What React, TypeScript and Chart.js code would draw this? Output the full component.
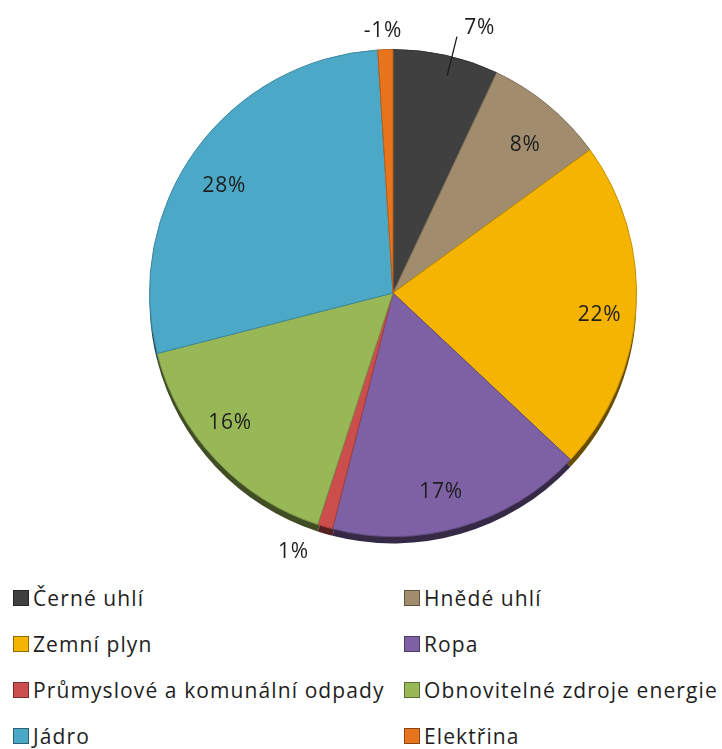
import React, { useEffect, useRef } from "react";
import { Chart, registerables } from "chart.js";

Chart.register(...registerables);

const categories = [
  "Černé uhlí",
  "Hnědé uhlí",
  "Zemní plyn",
  "Ropa",
  "Průmyslové a komunální odpady",
  "Obnovitelné zdroje energie",
  "Jádro",
  "Elektřina",
];
const shares = [7, 8, 22, 17, 1, 16, 28, -1];
const colors = ["#404040", "#A18C6D", "#F4B400", "#7D61A4", "#CB4E4C", "#98B858", "#4BA9C7", "#E8741E"];

// label placement (style): radius factor and angle offset in degrees
const LABEL_R = [1.145, 0.815, 0.853, 0.84, 1.14, 0.855, 0.82, 1.075];
const LABEL_DA = [5.5, 2.2, 2.5, 2.6, 4.8, 4.7, -3.7, -0.4];

const FONT = "'Open Sans', sans-serif";

function darken(hex: string, f: number) {
  const n = parseInt(hex.slice(1), 16);
  const r = Math.round(((n >> 16) & 255) * f);
  const g = Math.round(((n >> 8) & 255) * f);
  const b = Math.round((n & 255) * f);
  return `rgb(${r},${g},${b})`;
}

const shadowPlugin = {
  id: "pieShadow",
  beforeDatasetsDraw(chart: any) {
    const ctx = chart.ctx;
    const meta = chart.getDatasetMeta(0);
    ctx.save();
    meta.data.forEach((arc: any, i: number) => {
      const p = arc.getProps(["x", "y", "startAngle", "endAngle", "outerRadius"], true);
      const dy = 7;
      ctx.beginPath();
      ctx.moveTo(p.x, p.y + dy);
      ctx.arc(p.x, p.y + dy, p.outerRadius, p.startAngle, p.endAngle);
      ctx.closePath();
      ctx.fillStyle = darken(colors[i], 0.42);
      ctx.fill();
    });
    ctx.restore();
  },
};

const labelPlugin = {
  id: "pieLabels",
  afterDatasetsDraw(chart: any) {
    const ctx = chart.ctx;
    const meta = chart.getDatasetMeta(0);
    ctx.save();
    ctx.font = `21px ${FONT}`;
    try { (ctx as any).letterSpacing = "0.8px"; } catch (e) {}
    ctx.fillStyle = "#1e1e1e";
    ctx.textAlign = "center";
    ctx.textBaseline = "middle";
    meta.data.forEach((arc: any, i: number) => {
      const p = arc.getProps(["x", "y", "startAngle", "endAngle", "outerRadius"], true);
      const mid = (p.startAngle + p.endAngle) / 2;
      const a = mid + (LABEL_DA[i] * Math.PI) / 180;
      const r = p.outerRadius * LABEL_R[i];
      const lx = p.x + Math.cos(a) * r;
      const ly = p.y + Math.sin(a) * r;
      ctx.fillText(`${shares[i]}%`, lx, ly);
      if (i === 0) {
        const la = mid + (1.4 * Math.PI) / 180;
        ctx.beginPath();
        ctx.moveTo(p.x + Math.cos(la) * p.outerRadius * 0.92, p.y + Math.sin(la) * p.outerRadius * 0.92);
        ctx.lineTo(p.x + Math.cos(la) * p.outerRadius * 1.085, p.y + Math.sin(la) * p.outerRadius * 1.085);
        ctx.strokeStyle = "#1a1a1a";
        ctx.lineWidth = 1.3;
        ctx.stroke();
      }
    });
    ctx.restore();
  },
};

export default function App() {
  const ref = useRef<HTMLCanvasElement | null>(null);

  useEffect(() => {
    document.body.style.margin = "0";
    document.body.style.background = "#ffffff";
    const chart = new Chart(ref.current as HTMLCanvasElement, {
      type: "pie",
      data: {
        labels: categories,
        datasets: [
          {
            data: shares,
            backgroundColor: colors,
            borderColor: colors.map((c) => darken(c, 0.8)),
            borderWidth: 1,
          },
        ],
      },
      options: {
        animation: false,
        responsive: true,
        maintainAspectRatio: false,
        layout: { padding: { left: 148, right: 84, top: 49, bottom: 43 } },
        plugins: {
          legend: { display: false },
          tooltip: { enabled: false },
        },
      },
      plugins: [shadowPlugin, labelPlugin],
    });
    return () => chart.destroy();
  }, []);

  const rowTops = [598, 644, 690, 736];

  return (
    <div style={{ position: "relative", width: 722, height: 749, background: "#fff", overflow: "hidden" }}>
      <div style={{ position: "absolute", left: 0, top: 0, width: 722, height: 580 }}>
        <canvas ref={ref} />
      </div>
      {categories.map((c, i) => {
        const col = i % 2;
        const row = Math.floor(i / 2);
        return (
          <div
            key={c}
            style={{
              position: "absolute",
              left: col === 0 ? 13 : 404,
              top: rowTops[row] - 15,
              height: 30,
              display: "flex",
              alignItems: "center",
              whiteSpace: "nowrap",
              fontFamily: FONT,
              fontSize: 21,
              letterSpacing: "1.1px",
              color: "#1e1e1e",
            }}
          >
            <span
              style={{
                display: "inline-block",
                width: 14,
                height: 14,
                background: colors[i],
                border: `1px solid ${darken(colors[i], 0.6)}`,
                marginRight: 4,
              }}
            />
            <span>{c}</span>
          </div>
        );
      })}
    </div>
  );
}
